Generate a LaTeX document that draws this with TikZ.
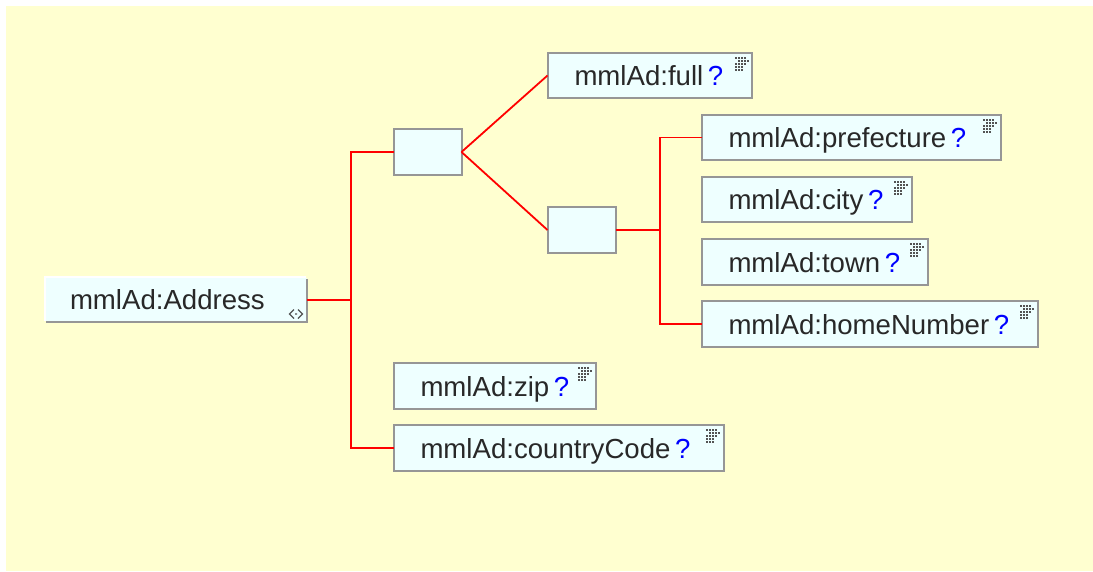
\documentclass[tikz,border=0pt]{standalone}
\usepackage{fontspec}
\setmainfont{Liberation Sans}
\definecolor{bgyellow}{RGB}{255,255,208}
\definecolor{boxfill}{RGB}{238,255,255}
\definecolor{boxedge}{RGB}{150,150,150}
\definecolor{textgrey}{RGB}{40,40,40}
\tikzset{every picture/.style={line width=1.5pt}}
\tikzset{
  elembox/.style={draw=boxedge,line width=2pt,fill=boxfill,anchor=north west,inner xsep=27pt,inner ysep=0pt,outer sep=0pt,
    font=\fontsize{27.6}{27.6}\selectfont,text=textgrey,align=left,text depth=0pt},
  seqbox/.style={draw=boxedge,line width=2pt,fill=boxfill,anchor=north west,minimum width=68pt,minimum height=46pt,inner sep=0pt,outer sep=0pt},
  redline/.style={draw=red,line width=1.8pt},
  pics/typeicon/.style={code={
    \begin{scope}[yscale=-1]
    \foreach \i/\j in {0/0,3/0,6/0,9/0,3/3,6/3,9/3,12/3,0/6,3/6,6/6,9/6,0/9,3/9,6/9,0/12,3/12,6/12}
      \fill[textgrey!80] (\i,\j) rectangle ++(2,2);
    \end{scope}
  }},
}
\newcommand{\elemtext}[1]{\mbox{#1\,{\color{blue}?}}}
\begin{document}
\begin{tikzpicture}[x=1pt,y=1pt,yscale=-1,xscale=1]
\useasboundingbox (0,0) rectangle (1093,571);
%Background
\fill [bgyellow] (6,6) rectangle (1093,571);

%Root box
\fill [white] (44,276) rectangle (306,321);
\node [fill=boxfill,anchor=north west,minimum width=261pt,minimum height=44pt,inner sep=0pt,outer sep=0pt,
  font=\fontsize{27.6}{27.6}\selectfont,text=textgrey,align=left,text width=261pt] (address) at (46,278) {\hspace{24pt}mmlAd:Address};
\draw [boxedge,line width=2pt] (307,279) -- (307,322) -- (46,322);
%Root icon
\draw [textgrey!80,line width=1.2pt] (294,309.5) -- (289.5,314) -- (294,318.5) (298,309.5) -- (302.5,314) -- (298,318.5) (295,314) -- (297,314);

% Sequence boxes
\node [seqbox] (seqa) at (393.5,129) {};
\node [seqbox] (seqb) at (547.5,207) {};

% Element boxes
\node [elembox,minimum height=45pt,text width=150pt] (full) at (547.5,53) {\elemtext{mmlAd:full}};
\node [elembox,minimum height=45pt,text width=245pt] (prefecture) at (701.5,115) {\elemtext{mmlAd:prefecture}};
\node [elembox,minimum height=45pt,text width=156pt] (city) at (701.5,177) {\elemtext{mmlAd:city}};
\node [elembox,minimum height=46pt,text width=172pt] (town) at (701.5,239) {\elemtext{mmlAd:town}};
\node [elembox,minimum height=46pt,text width=282pt] (homenumber) at (701.5,301) {\elemtext{mmlAd:homeNumber}};
\node [elembox,minimum height=46pt,text width=148pt] (zip) at (393.5,363) {\elemtext{mmlAd:zip}};
\node [elembox,minimum height=46pt,text width=276pt] (countrycode) at (393.5,425) {\elemtext{mmlAd:countryCode}};

% Type icons
\path (735,57) pic {typeicon};
\path (983,119) pic {typeicon};
\path (894,181) pic {typeicon};
\path (910,243) pic {typeicon};
\path (1020,305) pic {typeicon};
\path (578,367) pic {typeicon};
\path (706,429) pic {typeicon};

% Junctions
\coordinate (trunka) at (351,300);
\coordinate (trunkb) at (660,230);

% Connectors
\draw [redline] (address.east |- trunka) -- (trunka);
\draw [redline] (seqa.west) -| (trunka) |- (countrycode.west);
\draw [redline] (seqa.east) -- (full.west);
\draw [redline] (seqa.east) -- (seqb.west);
\draw [redline] (seqb.east) -- (trunkb);
\draw [redline] (prefecture.west) -| (trunkb) |- (homenumber.west);
\end{tikzpicture}
\end{document}
